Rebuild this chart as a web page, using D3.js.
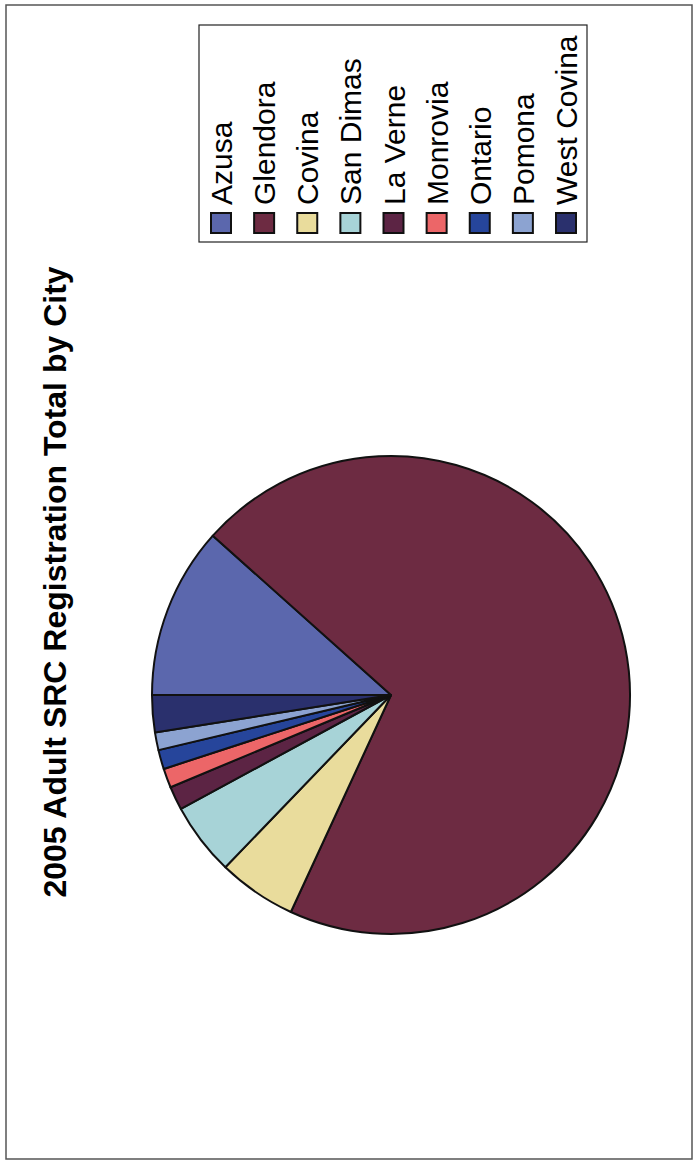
<!DOCTYPE html>
<html>
  <head>
    <title>2005 Adult SRC Registration Total by City</title>
    <script src="https://d3js.org/d3.v7.min.js"></script>
    <style>
      body { margin: 0; background: #fff; }
      svg { display: block; }
      .title {
        font-family: "Liberation Sans", Arial, sans-serif;
        font-weight: bold;
        font-size: 32px;
        fill: #000;
        text-anchor: middle;
      }
      .legend text {
        font-family: "Liberation Sans", Arial, sans-serif;
        font-size: 30px;
        fill: #000;
      }
    </style>
  </head>
  <body>
    <svg width="696" height="1162"></svg>
    <script>
      const cities = ["Azusa", "Glendora", "Covina", "San Dimas", "La Verne",
                      "Monrovia", "Ontario", "Pomona", "West Covina"];
      const totals = [116, 702, 53, 49, 16, 13, 13, 12, 25];
      const colors = ["#5b67ad", "#6d2b42", "#e9dc9c", "#a7d3d7", "#5c2444",
                      "#ec6668", "#26459b", "#8ca3d1", "#2a306d"];

      const data = cities.map((c, i) => ({city: c, total: totals[i]}));

      const svg = d3.select("svg");
      // the page is a scanned landscape chart turned on its side
      const W = 1162, H = 696;
      const g = svg.append("g")
          .attr("transform", `translate(0, ${W}) rotate(-90)`);

      g.append("rect")
          .attr("x", 3).attr("y", 6)
          .attr("width", 1154).attr("height", 686)
          .attr("fill", "none")
          .attr("stroke", "#555")
          .attr("stroke-width", 1.5);

      g.append("text")
          .attr("class", "title")
          .attr("x", 580)
          .attr("y", 66)
          .text("2005 Adult SRC Registration Total by City");

      const color = d3.scaleOrdinal().domain(cities).range(colors);
      const pie = d3.pie().sort(null).value(d => d.total);
      const arc = d3.arc().innerRadius(0).outerRadius(239);

      g.append("g")
          .attr("transform", "translate(467, 391)")
        .selectAll("path").data(pie(data))
        .enter().append("path")
          .attr("d", arc)
          .attr("fill", d => color(d.data.city))
          .attr("stroke", "#111")
          .attr("stroke-width", 2)
          .attr("stroke-linejoin", "round");

      const legend = g.append("g").attr("class", "legend");
      legend.append("rect")
          .attr("x", 920).attr("y", 199)
          .attr("width", 217).attr("height", 388)
          .attr("fill", "#fff")
          .attr("stroke", "#222")
          .attr("stroke-width", 1.2);

      const yLeg = d3.scalePoint().domain(cities).range([221, 566]);
      const item = legend.selectAll("g.item").data(cities)
        .enter().append("g")
          .attr("class", "item")
          .attr("transform", d => `translate(0, ${yLeg(d)})`);
      item.append("rect")
          .attr("x", 929).attr("y", -10)
          .attr("width", 20).attr("height", 20)
          .attr("fill", d => color(d))
          .attr("stroke", "#111")
          .attr("stroke-width", 2);
      item.append("text")
          .attr("x", 957)
          .attr("y", 11)
          .text(d => d);
    </script>
  </body>
</html>
